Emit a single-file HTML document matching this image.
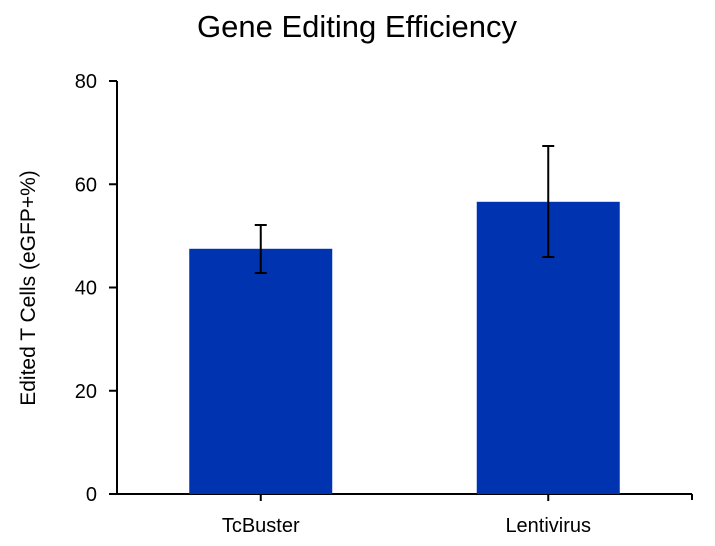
<!DOCTYPE html>
<html><head><meta charset="utf-8"><style>
html,body{margin:0;padding:0;background:#fff;}
svg{display:block;font-family:"Liberation Sans",sans-serif;}
</style></head><body>
<svg id="chart" width="715" height="546">
<text x="357" y="37" font-size="31" text-anchor="middle" fill="#000">Gene Editing Efficiency</text>
<text transform="translate(35,288) rotate(-90)" font-size="21" text-anchor="middle" fill="#000">Edited T Cells (eGFP+%)</text>
<g id="yaxis"></g>
<g id="xaxis"></g>
<g id="bars"></g>
</svg>
<script>
const categories = ["TcBuster", "Lentivirus"];
const values = [47.5, 56.6];
const errLow = [42.8, 45.9];
const errHigh = [52.1, 67.4];
const yTicks = [0, 20, 40, 60, 80];

const NS = "http://www.w3.org/2000/svg";
const x0 = 117, x1 = 692, yBase = 494, yTop = 81, yMax = 80;
const band = (x1 - x0) / categories.length;
const barW = 143;
function y(v){ return yBase - (v / yMax) * (yBase - yTop); }
function xc(i){ return x0 + band * (i + 0.5); }
function mk(tag, attrs, parent){
  const e = document.createElementNS(NS, tag);
  for (const k in attrs) e.setAttribute(k, attrs[k]);
  parent.appendChild(e);
  return e;
}
const ya = document.getElementById('yaxis');
const xa = document.getElementById('xaxis');
const bg = document.getElementById('bars');

const yl = mk('line', {x1:x0, y1:yTop, x2:x0, y2:yBase, stroke:'#000', 'stroke-width':2}, ya);


yTicks.forEach(t => {
  const tk = mk('line', {x1:x0-8, y1:y(t), x2:x0, y2:y(t), stroke:'#000', 'stroke-width':2}, ya);
  
  
  const lb = mk('text', {x:x0-20, y:y(t)+7, 'font-size':20, 'text-anchor':'end', fill:'#000'}, ya);
  lb.textContent = t;
  
  
});
const xl = mk('line', {x1:x0-8, y1:yBase, x2:x1, y2:yBase, stroke:'#000', 'stroke-width':2}, xa);


const xe = mk('line', {x1:x1, y1:yBase, x2:x1, y2:yBase+6, stroke:'#000', 'stroke-width':2}, xa);



categories.forEach((c, i) => {
  const cx = xc(i);
  const r = mk('rect', {x:cx-barW/2, y:y(values[i]), width:barW, height:yBase-y(values[i]), fill:'#0033b0'}, bg);
  
  
  const e = mk('path', {d:`M${cx},${y(errHigh[i])}V${y(errLow[i])}M${cx-6},${y(errHigh[i])}H${cx+6}M${cx-6},${y(errLow[i])}H${cx+6}`, stroke:'#000', 'stroke-width':2, fill:'none'}, bg);
  
  
  const tk = mk('line', {x1:cx, y1:yBase, x2:cx, y2:yBase+7, stroke:'#000', 'stroke-width':2}, xa);
  
  
  const lb = mk('text', {x:cx, y:532, 'font-size':20, 'text-anchor':'middle', fill:'#000'}, xa);
  lb.textContent = c;
  
  
});
</script>
</body></html>
